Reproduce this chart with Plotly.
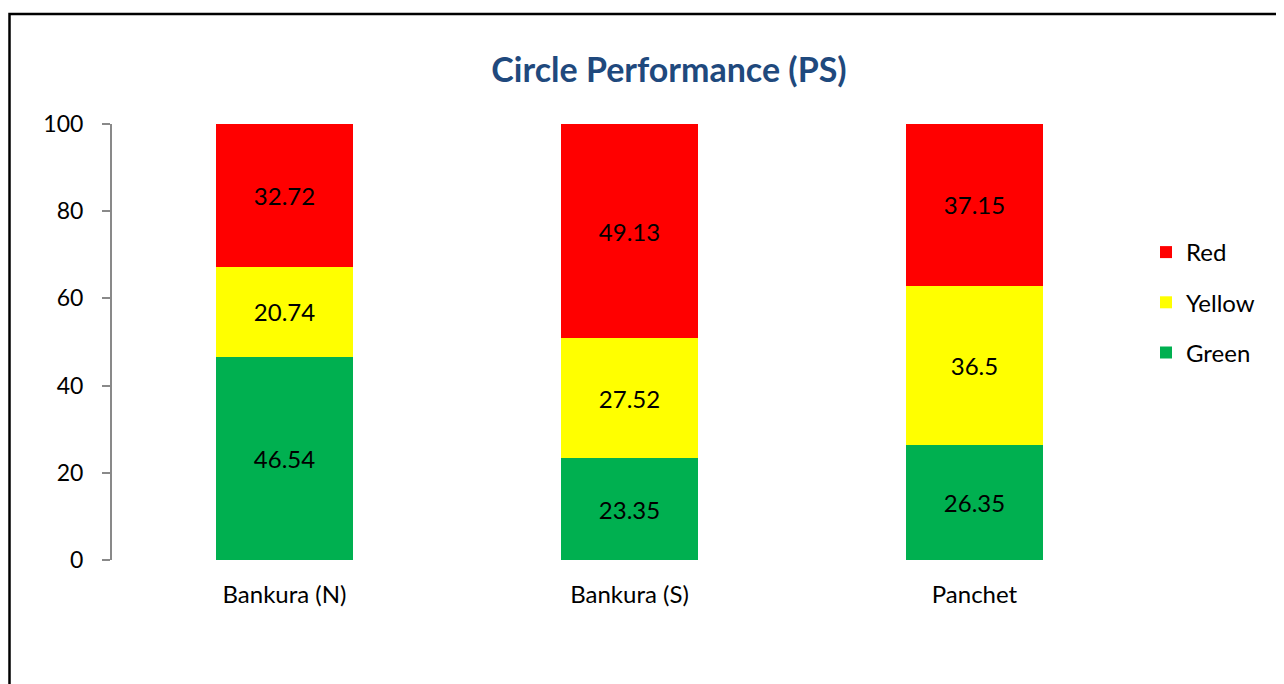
import plotly.graph_objects as go

categories = ["Bankura (N)", "Bankura (S)", "Panchet"]
green_vals = [46.54, 23.35, 26.35]
yellow_vals = [20.74, 27.52, 36.5]
red_vals = [32.72, 49.13, 37.15]
y_ticks = [0, 20, 40, 60, 80, 100]

FONT = "Lato, 'Open Sans', sans-serif"

# page body has an 8px margin; lay the figure out so the rendered result lands at the reference positions
OFF = 8
L, R_EDGE, T, B_EDGE = 112 - OFF, 1147 - OFF, 124 - OFF, 560 - OFF
PW, PH = R_EDGE - L, B_EDGE - T

fig = go.Figure()
series = [("Green", green_vals, "#00B050", 3), ("Yellow", yellow_vals, "#FFFF00", 2), ("Red", red_vals, "#FF0000", 1)]
for name, vals, color, rank in series:
    fig.add_trace(go.Bar(
        x=categories, y=vals, name=name, legendgroup=name, legendrank=rank,
        marker=dict(color=color, line=dict(width=0)),
        text=[f"{v:g}" for v in vals], textposition="inside", insidetextanchor="middle",
        textfont=dict(family=FONT, size=24, color="black"), textangle=0,
        width=0.397,
    ))

fig.update_layout(
    barmode="stack",
    width=1284, height=684,
    margin=dict(l=L, r=1284 - R_EDGE, t=T, b=684 - B_EDGE),
    paper_bgcolor="white", plot_bgcolor="white",
    title=dict(text="<b>Circle Performance (PS)</b>", x=(669 - OFF) / 1284, xanchor="center",
               y=1 - (70 - OFF) / 684, yanchor="middle",
               font=dict(family=FONT, size=34, color="#1F497D")),
    font=dict(family=FONT, size=24, color="black"),
    xaxis=dict(showline=False, ticks="", showgrid=False, tickfont=dict(size=24), ticklabelstandoff=18),
    yaxis=dict(range=[0, 100], tickvals=y_ticks, showgrid=False, showline=True, linecolor="#898989",
               linewidth=2, ticks="outside", ticklen=8, tickwidth=2, tickcolor="#898989",
               tickfont=dict(size=23), ticklabelstandoff=14, zeroline=False),
    legend=dict(x=(1146 - OFF - L) / PW, xanchor="left", y=(B_EDGE - (230 - OFF)) / PH, yanchor="top",
                traceorder="grouped", tracegroupgap=16,
                font=dict(family=FONT, size=24, color="black"), itemwidth=30),
    bargap=0.6,
)

fig.add_shape(type="rect", xref="paper", yref="paper",
              x0=(9.5 - OFF - L) / PW, x1=1.5, y0=-0.6, y1=(B_EDGE - (14 - OFF)) / PH,
              line=dict(color="black", width=2.5), fillcolor="rgba(0,0,0,0)", layer="above")

fig.write_html("out.html")
